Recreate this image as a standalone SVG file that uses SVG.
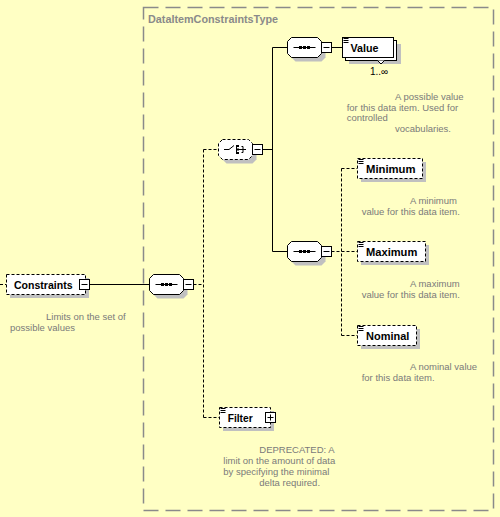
<svg xmlns="http://www.w3.org/2000/svg" width="500" height="517" viewBox="0 0 500 517">
<style>
.bg{fill:#FFFFC4}
.typebox{fill:none;stroke:#8a8a8a;stroke-width:1.5;stroke-dasharray:15 7}
.hdr{font-family:"Liberation Sans",Arial,sans-serif;font-size:11px;font-weight:bold;fill:#8a8a8a}
.shadow{fill:#c0c0c0;stroke:none}
.box{fill:#ffffff;stroke:#000;stroke-width:1}
.opt{stroke-dasharray:3 2}
.lbl{font-family:"Liberation Sans",Arial,sans-serif;font-size:11px;font-weight:bold;fill:#000}
.ann{font-family:"Liberation Sans",Arial,sans-serif;font-size:9.5px;fill:#7a7a7a}
.occ{font-family:"Liberation Sans",Arial,sans-serif;font-size:10px;fill:#000}
.ln{fill:none;stroke:#000;stroke-width:1}
.dl{fill:none;stroke:#000;stroke-width:1;stroke-dasharray:3 2}
.ico{fill:none;stroke:#000;stroke-width:1}
.dot{fill:#000}
</style>
<defs>
<g id="seqicon">
<line x1="-11" y1="0" x2="11" y2="0" stroke="#000" stroke-width="1"/>
<rect x="-5.5" y="-1.5" width="3" height="3" fill="#000"/>
<rect x="-1.5" y="-1.5" width="3" height="3" fill="#000"/>
<rect x="2.5" y="-1.5" width="3" height="3" fill="#000"/>
</g>
<g id="docicon">
<line x1="1" y1="1" x2="6" y2="1" stroke="#000" stroke-width="1"/>
<line x1="1" y1="3" x2="6" y2="3" stroke="#000" stroke-width="1"/>
<line x1="1" y1="5" x2="6" y2="5" stroke="#000" stroke-width="1"/>
</g>
<g id="minus">
<rect x="0" y="0" width="10" height="10" fill="#fff" stroke="#000" stroke-width="1"/>
<line x1="2" y1="5" x2="8" y2="5" stroke="#000" stroke-width="1"/>
</g>
</defs>

<rect class="bg" x="0" y="0" width="500" height="517"/>

<g id="type-box">
<rect class="typebox" x="143.5" y="7.5" width="350" height="503"/>
<text class="hdr" x="148" y="23" textLength="130" lengthAdjust="spacingAndGlyphs">DataItemConstraintsType</text>
</g>

<g id="connectors">
<line class="dl" x1="0" y1="284.5" x2="6.5" y2="284.5"/>
<line class="ln" x1="89.5" y1="284.5" x2="149.5" y2="284.5"/>
<path class="dl" d="M193.5,284.5 H203.5"/>
<path class="dl" d="M203.5,149.5 V417.5"/>
<path class="dl" d="M203.5,149.5 H218.5"/>
<path class="dl" d="M203.5,417.5 H219.5"/>
<path class="ln" d="M262.5,149.5 H272.5"/>
<path class="ln" d="M272.5,47.5 V251.5"/>
<path class="ln" d="M272.5,47.5 H287.5"/>
<path class="ln" d="M272.5,251.5 H287.5"/>
<path class="ln" d="M331.5,47.5 H342.5"/>
<path class="dl" d="M331.5,251.5 H357.5"/>
<path class="dl" d="M341.5,168.5 V335.5"/>
<path class="dl" d="M341.5,168.5 H357.5"/>
<path class="dl" d="M341.5,335.5 H357.5"/>
</g>

<g id="Constraints">
<rect class="shadow" x="10" y="278" width="79" height="20"/>
<rect class="box opt" x="6.5" y="274.5" width="79" height="20"/>
<text class="lbl" x="14" y="288.5" textLength="58.5" lengthAdjust="spacingAndGlyphs">Constraints</text>
<use href="#minus" x="79.5" y="279.5"/>
<text class="ann" x="46" y="320">Limits on the set of</text>
<text class="ann" x="10" y="330.7">possible values</text>
</g>

<g id="sequence-main">
<path class="shadow" d="M157.5,278.5 H183.5 L187.5,282.5 V294.5 L183.5,298.5 H157.5 L153.5,294.5 V282.5 Z"/>
<path class="box" d="M153.5,274.5 H179.5 L183.5,278.5 V290.5 L179.5,294.5 H153.5 L149.5,290.5 V278.5 Z"/>
<use href="#seqicon" x="166.5" y="284.5"/>
<use href="#minus" x="183.5" y="279.5"/>
</g>

<g id="choice">
<path class="shadow" d="M226.5,143.5 H252.5 L256.5,147.5 V159.5 L252.5,163.5 H226.5 L222.5,159.5 V147.5 Z"/>
<path class="box opt" d="M222.5,139.5 H248.5 L252.5,143.5 V155.5 L248.5,159.5 H222.5 L218.5,155.5 V143.5 Z"/>
<path class="ico" d="M224,149.5 H229 L234,145.5"/>
<path class="ico" d="M236.5,145 V154"/>
<rect class="dot" x="237" y="145" width="2" height="2"/>
<rect class="dot" x="237" y="148.5" width="2" height="2"/>
<rect class="dot" x="237" y="152" width="2" height="2"/>
<path class="ico" d="M239,149.5 H246 M241.5,146.5 H243 V152.5 H241.5"/>
<use href="#minus" x="252.5" y="144.5"/>
</g>

<g id="sequence-value">
<path class="shadow" d="M295.5,41.5 H321.5 L325.5,45.5 V57.5 L321.5,61.5 H295.5 L291.5,57.5 V45.5 Z"/>
<path class="box" d="M291.5,37.5 H317.5 L321.5,41.5 V53.5 L317.5,57.5 H291.5 L287.5,53.5 V41.5 Z"/>
<use href="#seqicon" x="304.5" y="47.5"/>
<use href="#minus" x="321.5" y="42.5"/>
</g>

<g id="Value">
<rect class="shadow" x="349" y="44" width="52" height="20"/>
<rect class="box" x="345.5" y="40.5" width="51" height="20"/>
<path d="M377.5,60.5 L381,64 L384.5,60.5" fill="#fff" stroke="#000" stroke-width="1"/>
<rect class="box" x="342.5" y="37.5" width="51" height="20"/>
<use href="#docicon" x="342.5" y="37.5"/>
<text class="lbl" x="350.5" y="51.5" textLength="28" lengthAdjust="spacingAndGlyphs">Value</text>
<text class="occ" x="370" y="75">1..∞</text>
<text class="ann" x="395" y="100">A possible value</text>
<text class="ann" x="346.7" y="110.7">for this data item. Used for</text>
<text class="ann" x="346.7" y="121.3">controlled</text>
<text class="ann" x="395" y="132">vocabularies.</text>
</g>

<g id="sequence-range">
<path class="shadow" d="M295.5,245.5 H321.5 L325.5,249.5 V261.5 L321.5,265.5 H295.5 L291.5,261.5 V249.5 Z"/>
<path class="box" d="M291.5,241.5 H317.5 L321.5,245.5 V257.5 L317.5,261.5 H291.5 L287.5,257.5 V245.5 Z"/>
<use href="#seqicon" x="304.5" y="251.5"/>
<use href="#minus" x="321.5" y="246.5"/>
</g>

<g id="Minimum">
<rect class="shadow" x="361" y="162" width="65" height="20"/>
<rect class="box opt" x="357.5" y="158.5" width="65" height="20"/>
<use href="#docicon" x="357.5" y="158.5"/>
<text class="lbl" x="366" y="173.3" textLength="49.5" lengthAdjust="spacingAndGlyphs">Minimum</text>
<text class="ann" x="410" y="204">A minimum</text>
<text class="ann" x="361.7" y="214.7">value for this data item.</text>
</g>

<g id="Maximum">
<rect class="shadow" x="361" y="245" width="68" height="20"/>
<rect class="box opt" x="357.5" y="241.5" width="68" height="20"/>
<use href="#docicon" x="357.5" y="241.5"/>
<text class="lbl" x="366" y="256" textLength="51.3" lengthAdjust="spacingAndGlyphs">Maximum</text>
<text class="ann" x="410" y="286.7">A maximum</text>
<text class="ann" x="361.7" y="298">value for this data item.</text>
</g>

<g id="Nominal">
<rect class="shadow" x="361" y="329" width="59" height="20"/>
<rect class="box opt" x="357.5" y="325.5" width="59" height="20"/>
<use href="#docicon" x="357.5" y="325.5"/>
<text class="lbl" x="366" y="339.5" textLength="43.3" lengthAdjust="spacingAndGlyphs">Nominal</text>
<text class="ann" x="410" y="370">A nominal value</text>
<text class="ann" x="361.7" y="380.7">for this data item.</text>
</g>

<g id="Filter">
<rect class="shadow" x="223" y="411" width="51" height="20"/>
<rect class="box opt" x="219.5" y="407.5" width="51" height="20"/>
<use href="#docicon" x="219.5" y="407.5"/>
<text class="lbl" x="227.7" y="421.7" textLength="25" lengthAdjust="spacingAndGlyphs">Filter</text>
<rect x="265.5" y="412.5" width="10" height="10" fill="#fff" stroke="#000" stroke-width="1"/>
<path d="M267.5,417.5 H273.5 M270.5,414.5 V420.5" stroke="#000" stroke-width="1"/>
<text class="ann" x="259.3" y="453.3">DEPRECATED: A</text>
<text class="ann" x="223.3" y="464">limit on the amount of data</text>
<text class="ann" x="223.3" y="475">by specifying the minimal</text>
<text class="ann" x="259.3" y="485.7">delta required.</text>
</g>
</svg>
